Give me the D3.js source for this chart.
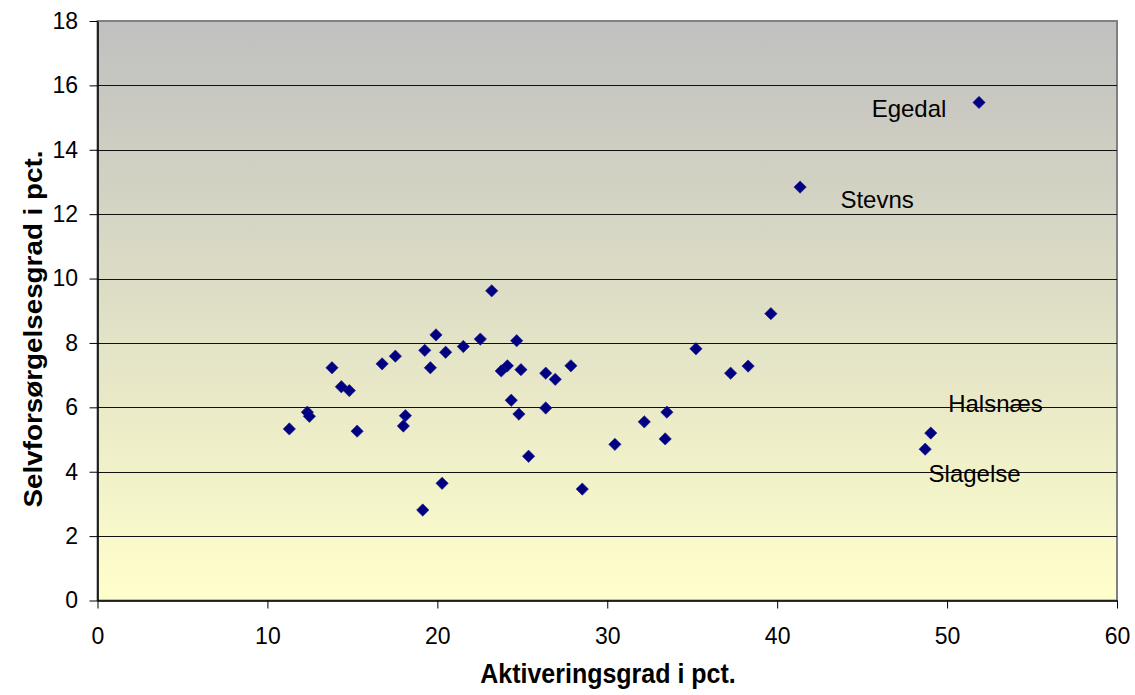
<!DOCTYPE html>
<html><head><meta charset="utf-8">
<script src="https://cdn.jsdelivr.net/npm/d3@7"></script>
<style>body{margin:0;background:#fff;} text{font-family:Arial,"Liberation Sans",sans-serif;}</style>
</head><body>
<svg id="c" width="1135" height="695"></svg>
<script>
const aktivering = [11.29,12.35,12.47,13.8,14.35,14.82,15.28,16.75,17.53,18.12,18.0,19.26,19.92,19.59,20.49,21.53,22.53,20.28,19.14,23.2,24.67,24.12,23.76,24.92,26.38,26.94,27.86,24.35,24.8,26.38,25.37,28.53,30.45,39.63,35.22,37.26,38.29,33.51,32.18,33.41,51.88,41.35,49.04,48.71];
const selvforsorgelse = [5.33,5.85,5.72,7.23,6.64,6.52,5.26,7.35,7.59,5.74,5.42,7.77,8.25,7.23,7.71,7.89,8.12,3.64,2.81,9.62,8.07,7.29,7.13,7.17,7.06,6.87,7.29,6.22,5.79,5.98,4.48,3.46,4.85,8.91,7.82,7.06,7.28,5.85,5.55,5.02,15.47,12.84,5.2,4.7];
const labelNames = ["Egedal","Stevns","Halsnæs","Slagelse"];
const labelX = [47.76,45.88,52.85,51.62];
const labelY = [15.03,12.18,5.85,3.67];
const xTicks = [0,10,20,30,40,50,60];
const yTicks = [0,2,4,6,8,10,12,14,16,18];

const svg = d3.select("#c");
const m = {l:97.5, r:1117, t:21, b:600.5};
const x = d3.scaleLinear().domain([0,60]).range([m.l,m.r]);
const y = d3.scaleLinear().domain([0,18]).range([m.b,m.t]);

const defs = svg.append("defs");
const g = defs.append("linearGradient").attr("id","bg").attr("x1",0).attr("y1",0).attr("x2",0).attr("y2",1);
g.append("stop").attr("offset","0%").attr("stop-color","#c0c0c0");
g.append("stop").attr("offset","100%").attr("stop-color","#ffffcc");

svg.append("rect").attr("x",m.l).attr("y",m.t).attr("width",m.r-m.l).attr("height",m.b-m.t)
  .attr("fill","url(#bg)").attr("stroke","#808080").attr("stroke-width",2);

svg.append("g").selectAll("line").data(yTicks.filter(d=>d>0 && d<18)).join("line")
  .attr("x1",m.l).attr("x2",m.r).attr("y1",d=>Math.round(y(d))+0.5).attr("y2",d=>Math.round(y(d))+0.5)
  .attr("stroke","#111").attr("stroke-width",1.2);

const xa = svg.append("g").attr("transform",`translate(0,${m.b})`)
  .call(d3.axisBottom(x).tickValues(xTicks).tickSize(8).tickPadding(19.5).tickSizeOuter(0));
const ya = svg.append("g").attr("transform",`translate(${m.l},0)`)
  .call(d3.axisLeft(y).tickValues(yTicks).tickSize(8).tickPadding(11.5).tickSizeOuter(0));
[xa,ya].forEach(a=>{
  a.select(".domain").attr("stroke","#000").attr("stroke-width",1.5);
  a.selectAll(".tick line").attr("stroke","#000");
  a.selectAll("text").attr("font-size",23).attr("fill","#000").attr("font-family","Arial, Liberation Sans, sans-serif");
});

const diamond = {draw(ctx,size){const r=Math.sqrt(size/2);ctx.moveTo(0,-r);ctx.lineTo(r,0);ctx.lineTo(0,r);ctx.lineTo(-r,0);ctx.closePath();}};
const pts = aktivering.map((v,i)=>({x:v,y:selvforsorgelse[i]}));
svg.append("g").selectAll("path").data(pts).join("path")
  .attr("d",d3.symbol().type(diamond).size(76))
  .attr("transform",d=>`translate(${x(d.x)},${y(d.y)})`)
  .attr("fill","#000080").attr("stroke","#1a1a90").attr("stroke-width",0.6);

svg.append("g").selectAll("text").data(labelNames).join("text")
  .attr("x",(d,i)=>x(labelX[i])).attr("y",(d,i)=>y(labelY[i]))
  .attr("text-anchor","middle")
  .attr("font-size",24).attr("fill","#000").text(d=>d);

svg.append("text").attr("transform","translate(608,683.3) scale(1,1.14)").attr("text-anchor","middle")
  .attr("font-size",25).attr("font-weight","bold").text("Aktiveringsgrad i pct.");
svg.append("text").attr("transform","translate(41.5,329) scale(1,1.07) rotate(-90)").attr("text-anchor","middle")
  .attr("font-size",26).attr("font-weight","bold").text("Selvforsørgelsesgrad i pct.");
</script>
</body></html>
